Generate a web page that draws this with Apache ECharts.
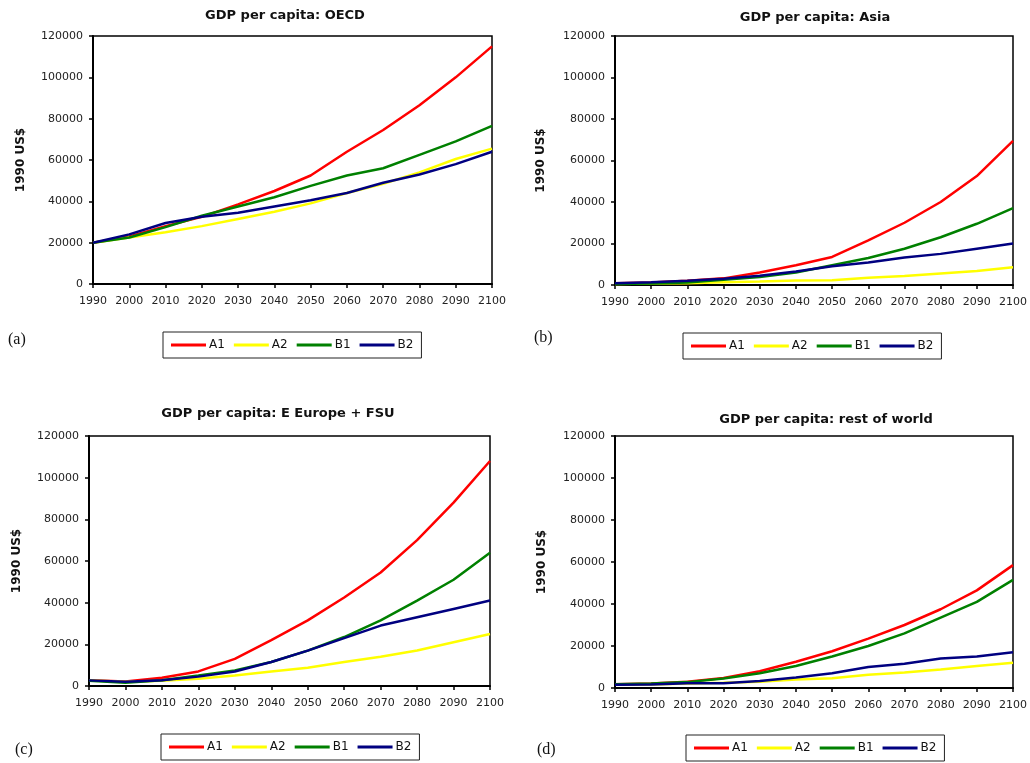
<!DOCTYPE html>
<html><head><meta charset="utf-8">
<script src="https://cdn.jsdelivr.net/npm/echarts@6/dist/echarts.min.js"></script>
<style>html,body{margin:0;padding:0;background:#fff}#c{width:1030px;height:763px}</style>
</head><body><div id="c"></div>
<script>
const years = ['1990','2000','2010','2020','2030','2040','2050','2060','2070','2080','2090','2100'];
const seriesNames = ['A1','A2','B1','B2'];
const yTicksMax = 120000;
const yTickStep = 20000;

const oecdA1 = [20000, 23000, 28000, 32500, 38500, 45000, 52500, 64000, 74500, 86500, 100000, 115000];
const oecdA2 = [20000, 22500, 25000, 28000, 31500, 35000, 39000, 44000, 48500, 54000, 60500, 65500];
const oecdB1 = [20000, 22500, 27500, 33000, 37500, 42000, 47500, 52500, 56000, 62500, 69000, 76500];
const oecdB2 = [20000, 24000, 29500, 32500, 34500, 37500, 40500, 44000, 49000, 53000, 58000, 64000];

const asiaA1 = [800, 1200, 2000, 3200, 6000, 9500, 13500, 21500, 30000, 40000, 52500, 69500];
const asiaA2 = [500, 700, 900, 1300, 1700, 2200, 2300, 3500, 4300, 5500, 6700, 8500];
const asiaB1 = [500, 700, 1200, 2500, 3800, 6000, 9500, 13000, 17500, 23000, 29500, 37000];
const asiaB2 = [800, 1300, 2000, 3000, 4500, 6500, 9000, 10800, 13200, 15000, 17500, 20000];

const eeA1 = [2800, 2200, 4000, 7000, 13000, 22000, 31500, 42500, 54500, 70000, 88000, 108000];
const eeA2 = [2700, 2000, 2500, 3500, 5000, 7000, 8800, 11500, 14000, 17000, 21000, 25000];
const eeB1 = [2500, 1500, 2800, 5000, 7500, 11500, 17000, 23500, 31500, 41000, 51000, 64000];
const eeB2 = [2700, 2000, 2800, 4500, 7000, 11500, 17000, 23000, 29000, 33000, 37000, 41000];

const rowA1 = [1800, 2200, 3000, 4800, 8000, 12500, 17500, 23500, 30000, 37500, 46500, 58500];
const rowA2 = [1500, 1700, 2200, 2500, 3000, 4000, 4600, 6300, 7400, 8800, 10500, 12000];
const rowB1 = [1800, 2200, 2800, 4500, 7000, 10500, 15000, 20000, 26000, 33500, 41000, 51500];
const rowB2 = [1500, 1700, 2300, 2300, 3300, 5000, 7000, 10000, 11500, 14000, 15000, 17000];

const panelTitles = ['GDP per capita: OECD', 'GDP per capita: Asia', 'GDP per capita: E Europe + FSU', 'GDP per capita: rest of world'];
const panelLetters = ['(a)', '(b)', '(c)', '(d)'];
const yAxisName = '1990 US$';
const panelData = [
  [oecdA1, oecdA2, oecdB1, oecdB2],
  [asiaA1, asiaA2, asiaB1, asiaB2],
  [eeA1, eeA2, eeB1, eeB2],
  [rowA1, rowA2, rowB1, rowB2]
];

// layout
const colors = ['#FF0000', '#FFFF00', '#008000', '#000080'];
const grids = [
  {left: 93, top: 36, width: 399, height: 248},
  {left: 615, top: 36, width: 398, height: 249},
  {left: 89, top: 436, width: 401, height: 250},
  {left: 615, top: 436, width: 401, height: 252}
];
const titlePos = [[285, 9], [815, 11], [278, 407], [826, 413]];
const legendPos = [[163, 332], [683, 333], [161, 734], [686, 735]];
const letterPos = [[8, 342], [534, 340], [15, 752], [537, 752]];
const nameGaps = [66, 68, 66, 67];

const chart = echarts.init(document.getElementById('c'), null, {renderer: 'canvas'});
const option = {
  backgroundColor: '#fff',
  animation: false,
  title: panelTitles.map((t, i) => ({
    text: t, left: titlePos[i][0], top: titlePos[i][1], textAlign: 'center', padding: 0,
    textStyle: {fontFamily: 'DejaVu Sans', fontWeight: 'bold', fontSize: 13, color: '#111'}
  })),
  legend: legendPos.map(p => ({
    data: seriesNames, left: p[0], top: p[1], orient: 'horizontal',
    icon: 'rect', itemWidth: 35, itemHeight: 3, itemGap: 9,
    padding: [7, 8], borderColor: '#222', borderWidth: 1,
    textStyle: {fontFamily: 'DejaVu Sans', fontSize: 12, color: '#111', padding: [0, 0, 0, -2]},
    selectedMode: false
  })),
  grid: grids.map(g => Object.assign({show: true, borderColor: '#000', borderWidth: 1.5, backgroundColor: '#fff', containLabel: false}, g)),
  xAxis: grids.map((g, i) => ({
    type: 'category', gridIndex: i, data: years, boundaryGap: false,
    axisLine: {lineStyle: {color: '#000', width: 2}},
    axisTick: {show: true, length: 4, alignWithLabel: true, interval: 0, lineStyle: {color: '#000', width: 1.5}},
    axisLabel: {interval: 0, margin: 12, fontFamily: 'DejaVu Sans', fontSize: 11, color: '#222'},
    splitLine: {show: false}
  })),
  yAxis: grids.map((g, i) => ({
    type: 'value', gridIndex: i, min: 0, max: yTicksMax, interval: yTickStep,
    name: yAxisName, nameLocation: 'middle', nameGap: nameGaps[i], nameRotate: 90,
    nameTextStyle: {fontFamily: 'DejaVu Sans', fontWeight: 'bold', fontSize: 12, color: '#111'},
    axisLine: {show: true, lineStyle: {color: '#000', width: 2}},
    axisTick: {show: true, length: 4, lineStyle: {color: '#000', width: 1.5}},
    axisLabel: {margin: 10, fontFamily: 'DejaVu Sans', fontSize: 11, color: '#222', formatter: v => String(v)},
    splitLine: {show: false}
  })),
  series: [],
  graphic: panelLetters.map((t, i) => ({
    type: 'text', left: letterPos[i][0], top: letterPos[i][1] - 10,
    style: {text: t, font: '16px "Liberation Serif"', fill: '#111'}
  }))
};
panelData.forEach((arrs, gi) => {
  arrs.forEach((d, si) => {
    option.series.push({
      type: 'line', name: seriesNames[si], xAxisIndex: gi, yAxisIndex: gi, data: d,
      showSymbol: false, symbol: 'none', color: colors[si],
      lineStyle: {color: colors[si], width: 2.5}, z: 2 + si
    });
  });
});
chart.setOption(option);
</script></body></html>
